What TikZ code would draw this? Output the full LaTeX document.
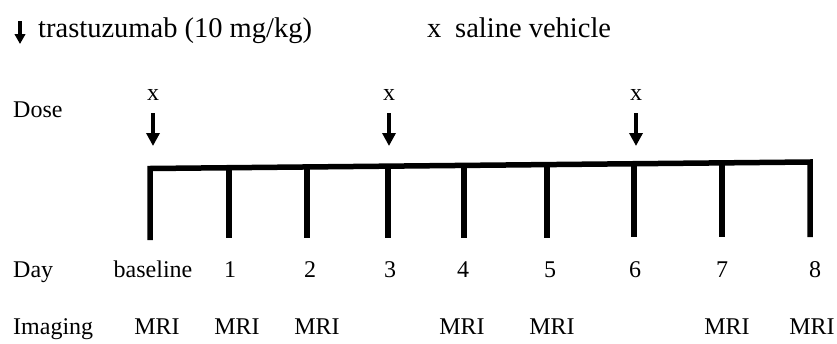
\documentclass[tikz,border=0pt]{standalone}
\usepackage{fontspec}
\setmainfont{Liberation Serif}
\usetikzlibrary{arrows.meta}

\tikzset{
  lbl/.style={inner sep=0pt, font=\fontsize{24}{24}\selectfont},
  hdr/.style={inner sep=0pt, font=\fontsize{28.5}{28.5}\selectfont},
  doseline/.style={line width=3.5pt, -{Triangle[width=13pt,length=13pt]}},
  keyarrow/.style={line width=3.2pt, -{Triangle[width=10.5pt,length=10pt]}},
  timeline/.style={line width=5.5pt, line join=miter, line cap=butt},
}

\begin{document}
\begin{tikzpicture}[x=1pt, y=-1pt]
  \useasboundingbox (0,0) rectangle (837,343);

  % legend
  \coordinate (k0) at (20,21);
  \coordinate (k1) at (20,44);
  \draw[keyarrow] (k0) -- (k1);
  \node[hdr, anchor=base west] (legdrug) at (38,37) {trastuzumab (10 mg/kg)};
  \node[hdr, anchor=base west] (legx) at (427,37) {x};
  \node[hdr, anchor=base west] (legsal) at (455,37) {saline vehicle};

  % row titles
  \node[lbl, anchor=base west] (dose) at (13,117) {Dose};
  \node[lbl, anchor=base west] (day) at (13,277) {Day};
  \node[lbl, anchor=base west] (imaging) at (13,334) {Imaging};

  % timeline: top edge points (on the slightly tilted bar) and tick feet
  \foreach \i/\x/\yb in {0/150/240,1/229/238,2/307/238,3/388/237.5,4/464/237.5,
                          5/547/237.5,6/634/237,7/722/237,8/810/237}{
    \pgfmathsetmacro{\yt}{168.5-6.5*(\x-150)/660}
    \coordinate (t\i) at (\x,\yt);
    \coordinate (b\i) at (\x,\yb);
  }
  \draw[timeline] (b0) -- (t0) -- (t8) -- (b8);
  \foreach \i in {1,...,7}{
    \draw[timeline] (t\i) -- (b\i);
  }

  % doses: saline mark above each trastuzumab arrow
  \foreach \n/\x in {1/153,2/389,3/636}{
    \node[lbl, anchor=base] (vx\n) at (\x,100) {x};
    \coordinate (ds\n) at (\x,113);
    \coordinate (de\n) at (\x,146);
    \draw[doseline] (ds\n) -- (de\n);
  }

  % day labels
  \node[lbl, anchor=base] (d0) at (153,277) {baseline};
  \foreach \n/\x in {1/230,2/310,3/390,4/463,5/550,6/635,7/722,8/815}{
    \node[lbl, anchor=base] (d\n) at (\x,277) {\n};
  }

  % imaging days
  \foreach \n/\x in {1/157,2/237,3/317,4/462,5/552,6/727,7/812}{
    \node[lbl, anchor=base] (m\n) at (\x,334) {MRI};
  }
\end{tikzpicture}
\end{document}
